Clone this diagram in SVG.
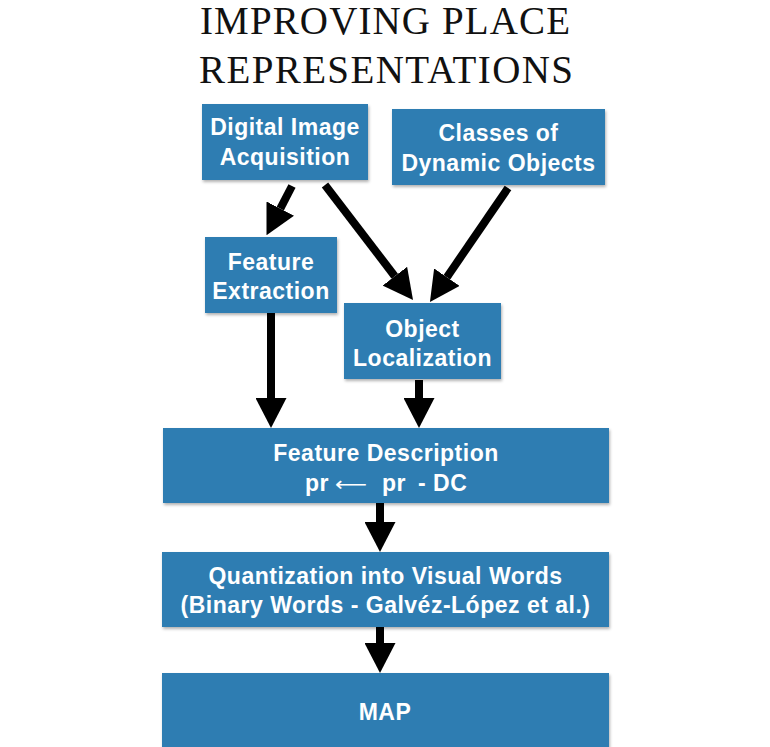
<svg xmlns="http://www.w3.org/2000/svg" width="770" height="747" viewBox="0 0 770 747">
<defs>
<style>
.title{font-family:"Liberation Serif","Times New Roman",serif;font-size:39px;fill:#111;text-anchor:middle}
.box{fill:#2e7db2;filter:url(#sh)}
.lbl{font-family:"Liberation Sans",Arial,Helvetica,sans-serif;font-weight:bold;font-size:23px;letter-spacing:0.5px;fill:#fff;text-anchor:middle}
.conn line{stroke:#000;stroke-width:8;fill:none;marker-end:url(#ah)}
</style>
<filter id="sh" x="-10%" y="-10%" width="120%" height="130%">
<feDropShadow dx="1" dy="2" stdDeviation="1.5" flood-color="#000" flood-opacity="0.3"/>
</filter>
<marker id="ah" viewBox="0 0 30 31" markerWidth="3.75" markerHeight="3.875" refX="0" refY="15.5" orient="auto" markerUnits="strokeWidth">
<path d="M0,0 L30,15.5 L0,31 z" fill="#000"/>
</marker>
</defs>
<rect width="770" height="747" fill="#fff"/>
<text class="title" x="385" y="34" textLength="370" lengthAdjust="spacing">IMPROVING PLACE</text>
<text class="title" x="386" y="83" textLength="374" lengthAdjust="spacing">REPRESENTATIONS</text>

<g id="n-acq">
<rect class="box" x="202" y="104" width="166" height="76"/>
<text class="lbl" x="285" y="135">Digital Image</text>
<text class="lbl" x="285" y="165">Acquisition</text>
</g>
<g id="n-classes">
<rect class="box" x="392" y="109" width="213" height="76"/>
<text class="lbl" x="498.5" y="141">Classes of</text>
<text class="lbl" x="498.5" y="171">Dynamic Objects</text>
</g>
<g id="n-extract">
<rect class="box" x="205" y="237" width="132" height="76"/>
<text class="lbl" x="271" y="270">Feature</text>
<text class="lbl" x="271" y="299">Extraction</text>
</g>
<g id="n-local">
<rect class="box" x="344" y="303" width="157" height="76"/>
<text class="lbl" x="422.5" y="337">Object</text>
<text class="lbl" x="422.5" y="366">Localization</text>
</g>
<g id="n-desc">
<rect class="box" x="163" y="428" width="446" height="75"/>
<text class="lbl" x="386" y="461">Feature Description</text>
<text class="lbl" x="305" y="491" style="text-anchor:start">pr</text>
<text x="335" y="491" textLength="32" lengthAdjust="spacingAndGlyphs" style="font-family:'DejaVu Sans',sans-serif;font-size:20px;fill:#fff">⟵</text>
<text class="lbl" x="382" y="491" style="text-anchor:start">pr</text>
<text class="lbl" x="418" y="491" style="text-anchor:start">- DC</text>
</g>
<g id="n-quant">
<rect class="box" x="162" y="552" width="447" height="75"/>
<text class="lbl" x="385.5" y="584">Quantization into Visual Words</text>
<text class="lbl" x="385.5" y="613">(Binary Words - Galvéz-López et al.)</text>
</g>
<g id="n-map">
<rect class="box" x="162" y="673" width="447" height="80"/>
<text class="lbl" x="385" y="720">MAP</text>
</g>

<g id="connectors" class="conn">
<line x1="292" y1="186" x2="280.3" y2="208.6"/>
<line x1="325" y1="185" x2="394.8" y2="276.2"/>
<line x1="508" y1="188" x2="446.9" y2="277.2"/>
<line x1="271" y1="313" x2="271" y2="398"/>
<line x1="419" y1="380" x2="419" y2="398"/>
<line x1="380" y1="503" x2="380" y2="522"/>
<line x1="380" y1="627" x2="380" y2="643"/>
</g>
</svg>
